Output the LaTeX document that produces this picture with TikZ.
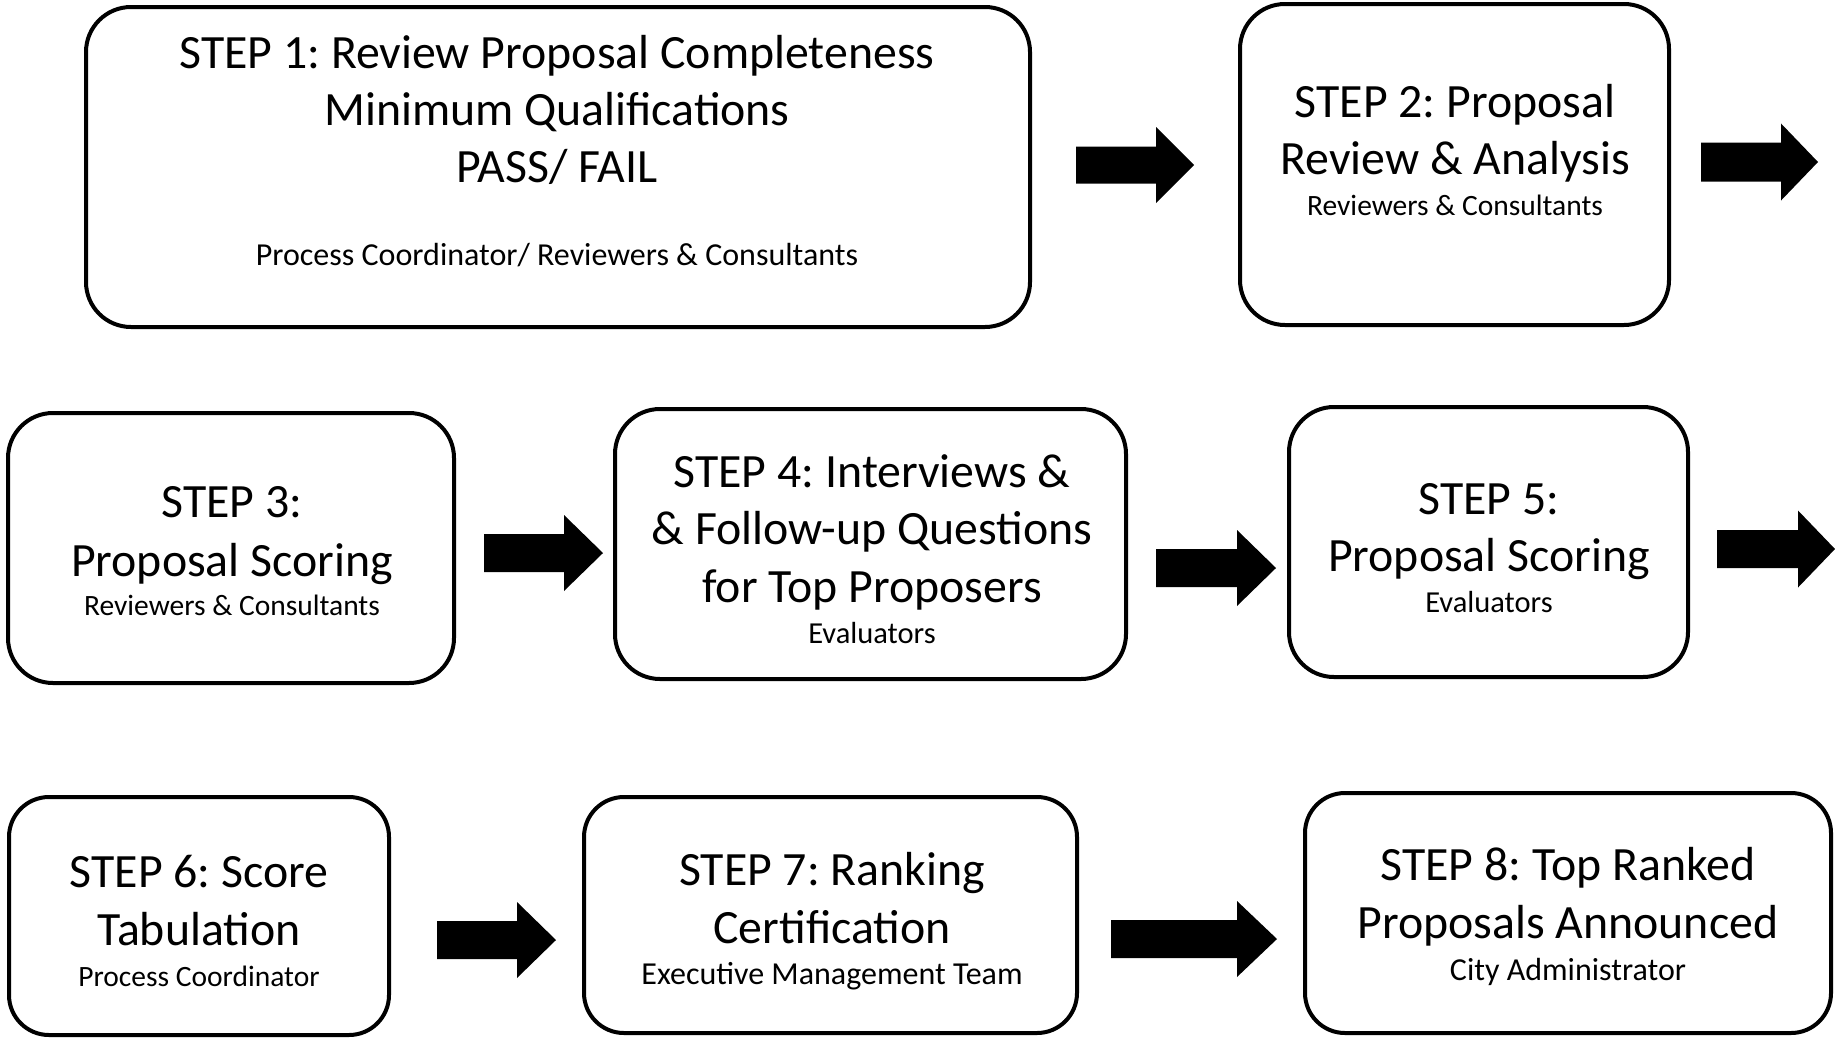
\documentclass[tikz,border=0pt]{standalone}
\usepackage{fontspec}
\setmainfont{Carlito}
\newcommand{\blockarrow}[7]{% x0, xh, xt, yc, shaft half, head half
  \fill[black] (#1,#4-#5) -- (#2,#4-#5) -- (#2,#4-#6) -- (#3,#4) -- (#2,#4+#6) -- (#2,#4+#5) -- (#1,#4+#5) -- cycle;
  \coordinate (#7) at (#3,#4);
}
\begin{document}
\frenchspacing
\begin{tikzpicture}[x=1pt,y=-1pt,
  stepbox/.style={draw=black, line width=4pt, rounded corners=45pt, inner sep=0pt, outer sep=0pt, fill=white},
  big/.style={font=\fontsize{47.8}{57}\selectfont, anchor=base, inner sep=0pt},
  small/.style={font=\fontsize{29.5}{34}\selectfont, anchor=base, inner sep=0pt},
  smallb/.style={font=\fontsize{32}{36}\selectfont, anchor=base, inner sep=0pt}]
\useasboundingbox[fill=white] (0,0) rectangle (1835,1039);
% boxes
\node[stepbox, minimum width=944pt, minimum height=320pt] (b1) at (558,167) {};
\node[stepbox, minimum width=429pt, minimum height=321pt] (b2) at (1454.5,164.5) {};
\node[stepbox, minimum width=446pt, minimum height=270pt] (b3) at (231,548) {};
\node[stepbox, minimum width=511pt, minimum height=270pt] (b4) at (870.5,544) {};
\node[stepbox, minimum width=399pt, minimum height=270pt] (b5) at (1488.5,542) {};
\node[stepbox, minimum width=380pt, minimum height=238pt, rounded corners=40pt] (b6) at (199,916) {};
\node[stepbox, minimum width=493pt, minimum height=236pt, rounded corners=40pt] (b7) at (830.5,915) {};
\node[stepbox, minimum width=526pt, minimum height=240pt, rounded corners=40pt] (b8) at (1568,913) {};
% texts box 1
\node[big] (t1a) at (557,68) {STEP 1: Review Proposal Completeness};
\node[big] (t1b) at (557,125) {Minimum Qualifications};
\node[big] (t1c) at (557,182) {PASS/ FAIL};
\node[smallb] (t1d) at (557,265) {Process Coordinator/ Reviewers \& Consultants};
% box 2
\node[big] (t2a) at (1455,117) {STEP 2: Proposal};
\node[big] (t2b) at (1455,174) {Review \& Analysis};
\node[small] (t2c) at (1455,215) {Reviewers \& Consultants};
% box 3
\node[big] (t3a) at (232,517) {STEP 3:};
\node[big] (t3b) at (232,576) {Proposal Scoring};
\node[small] (t3c) at (232,615) {Reviewers \& Consultants};
% box 4
\node[big] (t4a) at (872,487) {STEP 4: Interviews \&};
\node[big] (t4b) at (872,544) {\& Follow-up Questions};
\node[big] (t4c) at (872,602) {for Top Proposers};
\node[small, font=\fontsize{30.5}{34}\selectfont] (t4d) at (872,643) {Evaluators};
% box 5
\node[big] (t5a) at (1489,514) {STEP 5:};
\node[big] (t5b) at (1489,571) {Proposal Scoring};
\node[small, font=\fontsize{30.5}{34}\selectfont] (t5c) at (1489,612) {Evaluators};
% box 6
\node[big] (t6a) at (199,887) {STEP 6: Score};
\node[big] (t6b) at (199,945) {Tabulation};
\node[small] (t6c) at (199,986) {Process Coordinator};
% box 7
\node[big] (t7a) at (832,885) {STEP 7: Ranking};
\node[big] (t7b) at (832,943) {Certification};
\node[smallb] (t7c) at (832,984) {Executive Management Team};
% box 8
\node[big] (t8a) at (1568,880) {STEP 8: Top Ranked};
\node[big] (t8b) at (1568,938) {Proposals Announced};
\node[smallb] (t8c) at (1568,980) {City Administrator};
% block arrows
\blockarrow{1076}{1156}{1194}{165}{18.5}{38}{a1}
\blockarrow{1701}{1781}{1818}{162}{19.5}{38.5}{a2}
\blockarrow{484}{564}{603}{553}{19}{38}{a3}
\blockarrow{1156}{1237}{1276}{568}{19}{38}{a4}
\blockarrow{1717}{1798}{1835}{549}{19}{38.5}{a5}
\blockarrow{437}{517}{556}{940}{19}{38}{a6}
\blockarrow{1111}{1237}{1277}{939}{19}{38}{a7}
\end{tikzpicture}
\end{document}
